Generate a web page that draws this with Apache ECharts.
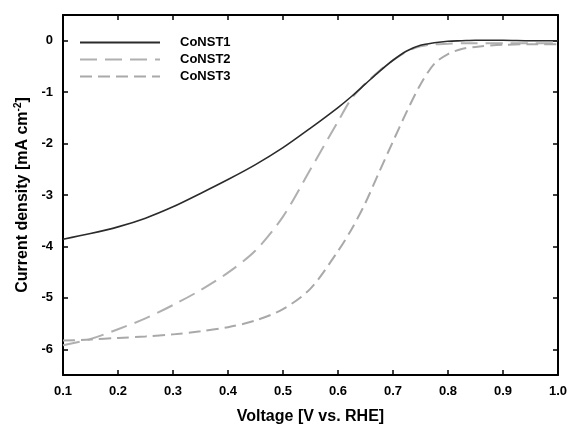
<!DOCTYPE html>
<html>
<head>
<meta charset="utf-8">
<script src="https://cdn.jsdelivr.net/npm/echarts@6/dist/echarts.min.js"></script>
<style>html,body{margin:0;padding:0;background:#fff}#c{width:570px;height:430px}</style>
</head>
<body>
<div id="c"></div>
<script>
const voltage = [0.10,0.15,0.20,0.25,0.30,0.35,0.40,0.45,0.50,0.55,0.60,0.625,0.65,0.675,0.70,0.725,0.75,0.775,0.80,0.825,0.85,0.90,0.95,1.00];
const const1 = [-3.86,-3.75,-3.62,-3.45,-3.23,-2.97,-2.70,-2.41,-2.08,-1.70,-1.30,-1.08,-0.84,-0.60,-0.38,-0.20,-0.09,-0.04,-0.01,0.00,0.01,0.01,0.00,0.00];
const const2 = [-5.92,-5.80,-5.61,-5.40,-5.14,-4.85,-4.51,-4.08,-3.42,-2.50,-1.57,-1.12,-0.83,-0.59,-0.38,-0.21,-0.11,-0.07,-0.06,-0.05,-0.05,-0.05,-0.05,-0.05];
const const3 = [-5.83,-5.81,-5.78,-5.75,-5.71,-5.65,-5.57,-5.44,-5.22,-4.82,-4.09,-3.66,-3.15,-2.55,-1.96,-1.38,-0.85,-0.45,-0.26,-0.16,-0.12,-0.08,-0.07,-0.07];
const seriesNames = ['CoNST1','CoNST2','CoNST3'];
const xTicks = [0.1,0.2,0.3,0.4,0.5,0.6,0.7,0.8,0.9,1.0];
const yTicks = [-6,-5,-4,-3,-2,-1,0];

const pairs = ys => voltage.map((v,i)=>[v, ys[i]]);
const font = '"Liberation Sans", Arial, sans-serif';
const axLine = {show:true, onZero:false, lineStyle:{color:'#000', width:2}};
const tick = vals => ({show:true, inside:true, length:5, customValues:vals, lineStyle:{color:'#000', width:1.5}});

const chart = echarts.init(document.getElementById('c'), null, {renderer:'canvas'});
chart.setOption({
  animation:false,
  backgroundColor:'#fff',
  grid:{left:63, right:9, top:15, bottom:55, containLabel:false},
  legend:{
    orient:'vertical', left:74, top:31, itemWidth:80, itemHeight:14, itemGap:4,
    data:seriesNames,
    itemStyle:{opacity:0},
    textStyle:{fontFamily:font, fontWeight:'bold', fontSize:13, color:'#000', padding:[0,0,0,15]}
  },
  xAxis:[{
    type:'value', min:0.1, max:1.0, position:'bottom',
    axisLine:axLine, axisTick:tick(xTicks), splitLine:{show:false},
    axisLabel:{customValues:xTicks, formatter:v=>v.toFixed(1), margin:10, fontFamily:font, fontWeight:'bold', fontSize:13, color:'#000'},
    name:'Voltage [V vs. RHE]', nameLocation:'middle', nameGap:34,
    nameTextStyle:{fontFamily:font, fontWeight:'bold', fontSize:16, color:'#000'}
  },{
    type:'value', min:0.1, max:1.0, position:'top',
    axisLine:axLine, axisTick:tick(xTicks), splitLine:{show:false},
    axisLabel:{show:false}
  }],
  yAxis:[{
    type:'value', min:-6.5, max:0.5, position:'left',
    axisLine:axLine, axisTick:tick(yTicks), splitLine:{show:false},
    axisLabel:{customValues:yTicks, margin:10, fontFamily:font, fontWeight:'bold', fontSize:13, color:'#000'},
    name:'{a|Current density [mA cm}{s|-2}{a|]}', nameLocation:'middle', nameGap:28,
    nameTextStyle:{
      rich:{
        a:{fontFamily:font, fontWeight:'bold', fontSize:16, color:'#000'},
        s:{fontFamily:font, fontWeight:'bold', fontSize:10, color:'#000', verticalAlign:'top', padding:[0,0,8,0]}
      }
    }
  },{
    type:'value', min:-6.5, max:0.5, position:'right',
    axisLine:axLine, axisTick:tick(yTicks), splitLine:{show:false},
    axisLabel:{show:false}
  }],
  series:[
    {name:seriesNames[0], type:'line', data:pairs(const1), smooth:0.3, symbol:'none', z:3,
     lineStyle:{color:'#2b2b2b', width:1.6}, itemStyle:{color:'#2b2b2b'}},
    {name:seriesNames[1], type:'line', data:pairs(const2), smooth:0.3, symbol:'none', z:2,
     lineStyle:{color:'#b0b0b0', width:2, type:[17,8]}, itemStyle:{color:'#b0b0b0'}},
    {name:seriesNames[2], type:'line', data:pairs(const3), smooth:0.3, symbol:'none', z:2,
     lineStyle:{color:'#a9a9a9', width:2, type:[12,6]}, itemStyle:{color:'#a9a9a9'}}
  ]
});
</script>
</body>
</html>
